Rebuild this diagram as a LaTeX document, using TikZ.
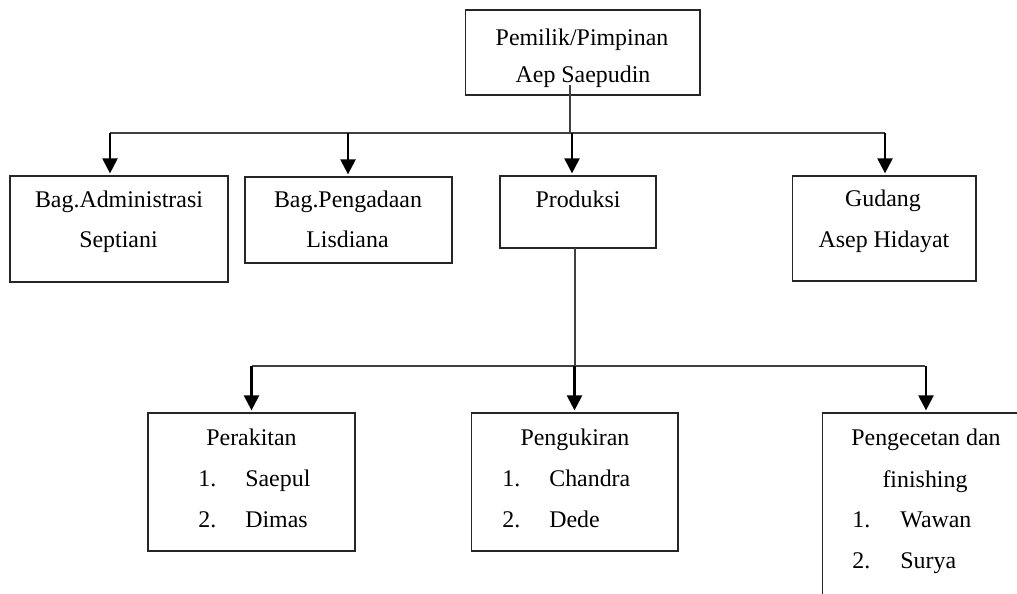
\documentclass[tikz,border=0pt]{standalone}
\usepackage{fontspec}
\setmainfont{Liberation Serif}
\usepackage{tikz}
\usetikzlibrary{calc, positioning}
\usetikzlibrary{shapes, arrows, arrows.meta}
\tikzset{
    kotak/.style={rectangle, draw=black!85, line width=0.6pt, inner sep=0pt, outer sep=0pt},
    teks/.style={anchor=base, inner sep=0pt},
    nomor/.style={anchor=base west, inner sep=0pt},
    garis/.style={draw=black!75, line width=0.7pt},
    panah/.style={draw=black, line width=1.3pt, shorten >=1.5pt, -{Triangle[length=8.5pt, width=8.5pt]}},
}

\begin{document}
\begin{tikzpicture}[x=0.02cm, y=-0.02cm, font=\fontsize{13.6pt}{16pt}\selectfont]
    \useasboundingbox (0,0) rectangle (1017,594);
    \clip (0,0) rectangle (1017,594);

    % pimpinan
    \node[kotak, minimum width=4.70cm, minimum height=1.70cm] (pemilik) at (582.5,52.5) {};
    \node[teks] (pemilik1) at (582,46) {Pemilik/Pimpinan};
    \node[teks] (pemilik2) at (583,83) {Aep Saepudin};

    % bagian
    \node[kotak, minimum width=4.36cm, minimum height=2.12cm] (admin) at (119,229) {};
    \node[teks] (admin1) at (119,208) {Bag.Administrasi};
    \node[teks] (admin2) at (118.5,248) {Septiani};

    \node[kotak, minimum width=4.14cm, minimum height=1.72cm] (pengadaan) at (348.5,220) {};
    \node[teks] (pengadaan1) at (348,208) {Bag.Pengadaan};
    \node[teks] (pengadaan2) at (347.5,248) {Lisdiana};

    \node[kotak, minimum width=3.12cm, minimum height=1.44cm] (produksi) at (578,212) {};
    \node[teks] (produksi1) at (578,208) {Produksi};

    \node[kotak, minimum width=3.68cm, minimum height=2.10cm] (gudang) at (884,228.5) {};
    \node[teks] (gudang1) at (883,207) {Gudang};
    \node[teks] (gudang2) at (884,248) {Asep Hidayat};

    % produksi
    \node[kotak, minimum width=4.14cm, minimum height=2.76cm] (rakit) at (251.5,482) {};
    \node[teks] (rakit1) at (251.5,445) {Perakitan};
    \node[nomor] (rakitn1) at (198,486) {1.};
    \node[nomor] (rakitp1) at (245,486) {Saepul};
    \node[nomor] (rakitn2) at (198,527) {2.};
    \node[nomor] (rakitp2) at (245,527) {Dimas};

    \node[kotak, minimum width=4.14cm, minimum height=2.76cm] (ukir) at (574.5,482) {};
    \node[teks] (ukir1) at (575,445) {Pengukiran};
    \node[nomor] (ukirn1) at (502,486) {1.};
    \node[nomor] (ukirp1) at (549,486) {Chandra};
    \node[nomor] (ukirn2) at (502,527) {2.};
    \node[nomor] (ukirp2) at (549,527) {Dede};

    \node[kotak, minimum width=4.16cm, minimum height=3.94cm] (cetan) at (926,511.5) {};
    \node[teks] (cetan1) at (926,445) {Pengecetan dan};
    \node[teks] (cetan2) at (925,487) {finishing};
    \node[nomor] (cetann1) at (852,527) {1.};
    \node[nomor] (cetanp1) at (900,527) {Wawan};
    \node[nomor] (cetann2) at (852,568) {2.};
    \node[nomor] (cetanp2) at (900,568) {Surya};

    % garis atas
    \coordinate (atas) at (570,85);
    \coordinate (kiri) at (110,133);
    \coordinate (kanan) at (885,133);
    \draw[garis] (atas) -- (atas |- kiri);
    \draw[garis] (kiri) -- (kanan);
    \foreach \x/\n in {110/admin, 348/pengadaan, 572/produksi, 885/gudang} {
        \coordinate (t\n) at (\x,133);
        \draw[panah] (t\n) -- (t\n |- \n.north);
    }

    % garis bawah
    \coordinate (tengah) at (575,366);
    \coordinate (kiri2) at (252,366);
    \coordinate (kanan2) at (925,366);
    \draw[garis] (tengah |- produksi.south) -- (tengah);
    \draw[garis] (kiri2) -- (kanan2);
    \foreach \n in {rakit, ukir, cetan} {
        \draw[panah] (\n.north |- kiri2) -- (\n.north);
    }
\end{tikzpicture}
\end{document}
